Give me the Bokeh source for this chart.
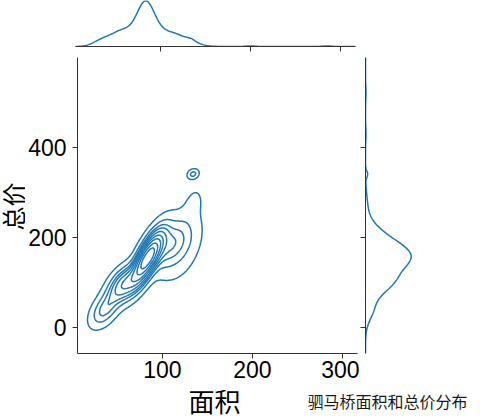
import numpy as np
from bokeh.plotting import figure
from bokeh.layouts import column, row
from bokeh.models import Range1d, Label, FixedTicker, Spacer
from bokeh.embed import file_html
from bokeh.resources import INLINE

# Estimated density components of the (面积, 总价) distribution
comp_area = [83, 84, 57, 36, 108, 120, 135, 134, 200, 285]
comp_price = [152, 155, 96, 40, 185, 175, 280, 341, 430, 520]
comp_sd_area = [11, 8, 11, 10, 15, 16, 8, 4, 5, 5]
comp_sd_price = [38, 22, 25, 24, 35, 50, 25, 7, 15, 15]
comp_corr = [0.75, 0.75, 0.5, 0.5, 0.45, 0.4, 0.3, 0.2, 0.0, 0.0]
comp_weight = [0.42, 0.06, 0.17, 0.07, 0.16, 0.08, 0.012, 0.006, 0.003, 0.003]

x_ticks = [100, 200, 300]
y_ticks = [0, 200, 400]
x_lim = (5.6, 316.7)
y_lim = (-58, 600)
x_label = "面积"
y_label = "总价"
caption = "驷马桥面积和总价分布"

COLOR = "#1f77b4"
SPINE = "#333333"

# ---- density on a grid (bivariate gaussian mixture) ----
gx = np.linspace(x_lim[0], x_lim[1], 300)
gy = np.linspace(y_lim[0], y_lim[1], 400)
X, Y = np.meshgrid(gx, gy)
Z = np.zeros_like(X)
fx = np.zeros_like(gx)
fy = np.zeros_like(gy)
for m1, m2, s1, s2, r, w in zip(comp_area, comp_price, comp_sd_area, comp_sd_price, comp_corr, comp_weight):
    u = (X - m1) / s1
    v = (Y - m2) / s2
    q = (u * u - 2 * r * u * v + v * v) / (2 * (1 - r * r))
    Z += w / (2 * np.pi * s1 * s2 * np.sqrt(1 - r * r)) * np.exp(-q)
    fx += w / (s1 * np.sqrt(2 * np.pi)) * np.exp(-0.5 * ((gx - m1) / s1) ** 2)
    fy += w / (s2 * np.sqrt(2 * np.pi)) * np.exp(-0.5 * ((gy - m2) / s2) ** 2)

# iso-proportion levels (as seaborn: levels=10, thresh=0.05)
props = np.linspace(0.05, 1, 10)[:-1]
vals = np.sort(Z.ravel())[::-1]
cum = np.cumsum(vals) / vals.sum()
idx = np.searchsorted(cum, 1 - props)
levels = np.sort(np.take(vals, idx, mode="clip"))


def style_axis(ax, ticks):
    ax.ticker = FixedTicker(ticks=ticks)
    ax.minor_tick_line_color = None
    ax.major_tick_in = 0
    ax.major_tick_out = 5
    ax.axis_line_color = SPINE
    ax.major_tick_line_color = SPINE
    ax.axis_line_width = 1
    ax.major_tick_line_width = 1


def hide_labels(ax):
    ax.major_label_text_color = None
    ax.major_label_text_font_size = "1px"
    ax.major_label_standoff = 0


def blank(fig):
    fig.axis.visible = False
    fig.grid.visible = False
    fig.outline_line_color = None


LEFT_W = 25  # strip that holds the y-axis title

# ---- y title strip ----
pl = figure(width=LEFT_W, height=326, x_range=Range1d(0, LEFT_W), y_range=Range1d(0, 326),
            min_border=0, output_backend="svg", toolbar_location=None)
blank(pl)
pl.add_layout(Label(x=12, y=162, text=y_label, angle=np.pi / 2,
                    text_align="center", text_baseline="middle",
                    text_font="Noto Sans CJK SC", text_font_size="24px", text_color="black"))

# ---- main joint plot ----
p = figure(frame_width=280, frame_height=296,
           x_range=Range1d(*x_lim), y_range=Range1d(*y_lim),
           min_border_left=75 - LEFT_W, min_border_right=2, min_border_top=0, min_border_bottom=30,
           output_backend="svg", toolbar_location=None)
p.grid.visible = False
p.outline_line_color = None
style_axis(p.xaxis[0], x_ticks)
style_axis(p.yaxis[0], y_ticks)
for ax in (p.xaxis[0], p.yaxis[0]):
    ax.major_label_text_font = "Liberation Sans"
    ax.major_label_text_font_size = "23px"
    ax.major_label_text_color = "black"
p.xaxis.major_label_standoff = 2
p.yaxis.major_label_standoff = 6

p.contour(gx, gy, Z, levels=levels, line_color=COLOR, line_width=1.5)

# ---- top marginal ----
pt = figure(frame_width=280, frame_height=46,
            x_range=p.x_range, y_range=Range1d(0, fx.max() * 46 / 45.7),
            min_border_left=75 - LEFT_W, min_border_right=2, min_border_top=0, min_border_bottom=11,
            output_backend="svg", toolbar_location=None)
pt.grid.visible = False
pt.outline_line_color = None
pt.yaxis.visible = False
style_axis(pt.xaxis[0], x_ticks)
hide_labels(pt.xaxis[0])
pt.line(gx, fx, line_color=COLOR, line_width=1.5)

# ---- right marginal ----
pr = figure(frame_width=48, frame_height=296,
            x_range=Range1d(0, fy.max() * 48 / 45.7), y_range=p.y_range,
            min_border_left=6, min_border_right=70, min_border_top=0, min_border_bottom=30,
            output_backend="svg", toolbar_location=None)
pr.grid.visible = False
pr.outline_line_color = None
pr.xaxis.visible = False
style_axis(pr.yaxis[0], y_ticks)
hide_labels(pr.yaxis[0])
pr.line(fy, gy, line_color=COLOR, line_width=1.5)

# ---- bottom texts ----
pb = figure(width=481, height=35, x_range=Range1d(0, 481), y_range=Range1d(0, 35),
            min_border=0, output_backend="svg", toolbar_location=None)
blank(pb)
pb.add_layout(Label(x=214, y=18, text=x_label, text_align="center", text_baseline="middle",
                    text_font="Noto Sans CJK SC", text_font_size="26px", text_color="black"))
pb.add_layout(Label(x=307, y=18, text=caption, text_align="left", text_baseline="middle",
                    text_font="Noto Sans CJK SC", text_font_size="16px", text_color="#1a1a1a"))

layout = column(row(Spacer(width=LEFT_W, height=57), pt, Spacer(width=124, height=57)),
                row(pl, p, pr), pb)

with open("out.html", "w") as f:
    f.write(file_html(layout, INLINE))
